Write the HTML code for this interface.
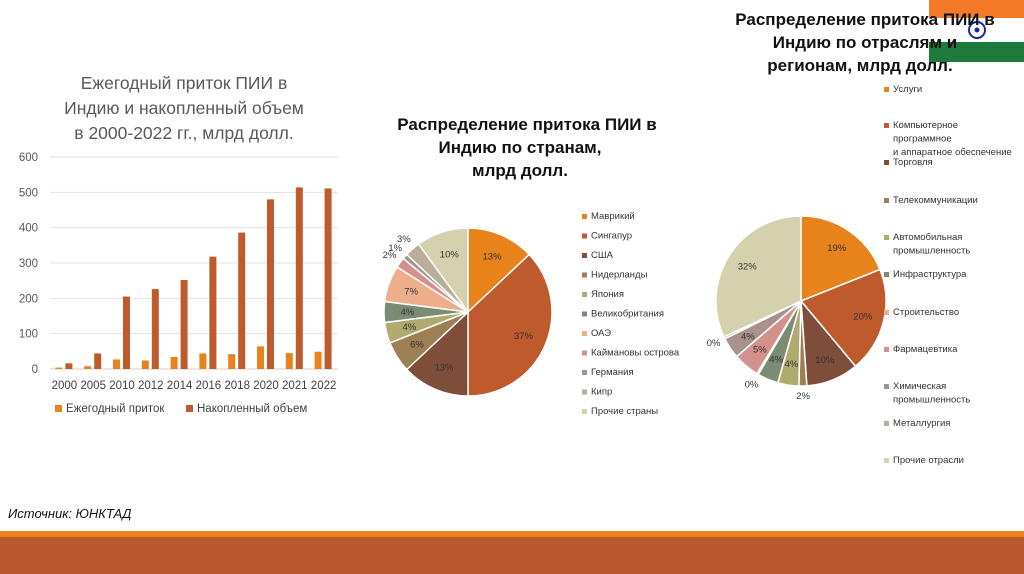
<!DOCTYPE html>
<html><head><meta charset="utf-8"><style>
body{margin:0;width:1024px;height:574px;position:relative;overflow:hidden;background:#fff;font-family:"Liberation Sans","Noto Sans CJK SC",sans-serif}
svg{position:absolute;left:0;top:0}
</style></head><body>
<svg width="1024" height="574" viewBox="0 0 1024 574">
<g>
<rect x="929" y="0" width="95" height="18" fill="#F47A2A"/>
<rect x="929" y="18" width="95" height="24" fill="#fff"/>
<rect x="929" y="42" width="95" height="20" fill="#1E7A3A"/>
<circle cx="977" cy="30" r="8" fill="none" stroke="#1A2A8A" stroke-width="2"/>
<circle cx="977" cy="30" r="2.5" fill="#1A2A8A"/>
</g>
<text x="865" y="25" text-anchor="middle" font-size="17" font-weight="bold" fill="#111"><tspan x="865">Распределение притока ПИИ в</tspan><tspan x="865" dy="23">Индию по отраслям и</tspan><tspan x="860" dy="23">регионам, млрд долл.</tspan></text>
<text x="184" y="89" text-anchor="middle" font-size="17.5" fill="#595959"><tspan x="184">Ежегодный приток ПИИ в</tspan><tspan x="184" dy="25">Индию и накопленный объем</tspan><tspan x="184" dy="25">в 2000-2022 гг., млрд долл.</tspan></text>
<text x="527" y="130" text-anchor="middle" font-size="17" font-weight="bold" fill="#111"><tspan x="527">Распределение притока ПИИ в</tspan><tspan x="520" dy="23">Индию по странам,</tspan><tspan x="520" dy="23">млрд долл.</tspan></text>
<g id="bars"></g><g id="pie1"></g><g id="pie2"></g>
<text x="8" y="518" font-size="13" font-style="italic" fill="#111">Источник: ЮНКТАД</text>
<rect x="0" y="531" width="1024" height="6" fill="#E8821A"/>
<rect x="0" y="537" width="1024" height="37" fill="#BA582E"/>
</svg>
<script>
const years=["2000","2005","2010","2012","2014","2016","2018","2020","2021","2022"];
const annual=[4,8,27,24,34,44,42,64,45,49];
const cumulative=[16,44,205,226,252,318,386,480,514,511];
const yTicks=[0,100,200,300,400,500,600];
const countries=["Маврикий","Сингапур","США","Нидерланды","Япония","Великобритания","ОАЭ","Каймановы острова","Германия","Кипр","Прочие страны"];
const countryShares=[13,37,13,6,4,4,7,2,1,3,10];
const countryLabels=["13%","37%","13%","6%","4%","4%","7%","2%","1%","3%","10%"];
const sectors=["Услуги","Компьютерное|программное|и аппаратное обеспечение","Торговля","Телекоммуникации","Автомобильная|промышленность","Инфраструктура","Строительство","Фармацевтика","Химическая|промышленность","Металлургия","Прочие отрасли"];
const sectorShares=[19,20,10,1.5,4,4,0.3,5,4,0.4,32];
const sectorLabels=["19%","20%","10%","2%","4%","4%","0%","5%","4%","0%","32%"];
const colors=["#E8821A","#BE5A2B","#7E4E3B","#9C7F53","#AFAA6E","#7C8C74","#EDAE8B","#D4908A","#A8928E","#B9AE9A","#D5D0AE"];
const NS="http://www.w3.org/2000/svg";
function mk(p,t,a){const e=document.createElementNS(NS,t);for(const k in a)e.setAttribute(k,a[k]);p.appendChild(e);return e;}
const B=document.getElementById('bars');
const x0=50,x1=338,yb=369,yt=157,ymax=600;
const ys=v=>yb-(v/ymax)*(yb-yt);
const cw=(x1-x0)/years.length;
yTicks.forEach(t=>{
 const l=mk(B,'line',{x1:x0,x2:x1,y1:ys(t),y2:ys(t),stroke:t?'#e2e2e2':'#d0d0d0'});
 
 
 const tx=mk(B,'text',{x:38,y:ys(t)+4,'text-anchor':'end','font-size':11.5,fill:'#595959'});tx.textContent=t;
 
 
});
years.forEach((y,i)=>{
 const c=x0+cw*(i+0.5);
 const r1=mk(B,'rect',{x:c-9,y:ys(annual[i]),width:7,height:yb-ys(annual[i]),fill:colors[0]});
 
 
 const r2=mk(B,'rect',{x:c+1,y:ys(cumulative[i]),width:7,height:yb-ys(cumulative[i]),fill:colors[1]});
 
 
 const t=mk(B,'text',{x:c,y:389,'text-anchor':'middle','font-size':11.5,fill:'#404040'});t.textContent=y;
 
 
});
[[55,"Ежегодный приток",colors[0]],[186,"Накопленный объем",colors[1]]].forEach(([x,n,c])=>{
 const g=mk(B,'g',{});
 
 
 mk(g,'rect',{x:x,y:405,width:7,height:7,fill:c});
 const t=mk(g,'text',{x:x+11,y:412,'font-size':11.5,fill:'#404040'});t.textContent=n;
});
function pie(id,cx,cy,r,vals,labs,names,lx,lys,labelPos){
 const G=document.getElementById(id);
 const tot=vals.reduce((a,b)=>a+b,0);let a=-Math.PI/2;
 vals.forEach((v,i)=>{
  const da=v/tot*2*Math.PI,b=a+da;
  const p=mk(G,'path',{d:`M${cx},${cy}L${cx+r*Math.cos(a)},${cy+r*Math.sin(a)}A${r},${r} 0 ${da>Math.PI?1:0} 1 ${cx+r*Math.cos(b)},${cy+r*Math.sin(b)}Z`,fill:colors[i],stroke:'#fff','stroke-width':1.5});
  
  
  const m=(a+b)/2,rr=labelPos(v,r);
  const t=mk(G,'text',{x:cx+rr*Math.cos(m),y:cy+rr*Math.sin(m)+3,'text-anchor':'middle','font-size':9.5,fill:'#333'});t.textContent=labs[i];
  
  
  a=b;
 });
 names.forEach((n,i)=>{
  const g=mk(G,'g',{});
  
  
  mk(g,'rect',{x:lx,y:lys[i]-5,width:5,height:5,fill:colors[i]});
  n.split('|').forEach((s,k)=>{const t=mk(g,'text',{x:lx+9,y:lys[i]+k*13.5,'font-size':9.5,fill:'#333'});t.textContent=s;});
 });
}
pie('pie1',468,312,84,countryShares,countryLabels,countries,582,countries.map((_,i)=>219+i*19.5),(v,r)=>v<=3?r+13:r*0.72);
pie('pie2',801,301,85,sectorShares,sectorLabels,sectors,884,[92,128,165,203,240,277,315,352,389,426,463],(v,r)=>v<1?r+12:v<3?r+10:r*0.75);
</script>
</body></html>
